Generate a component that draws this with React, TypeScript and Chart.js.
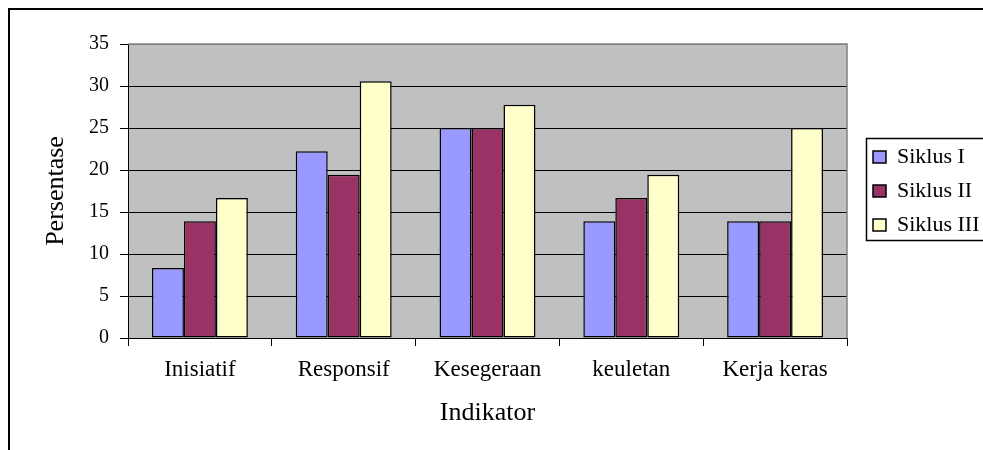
import React, { useEffect, useRef } from "react";
import { Chart, registerables } from "chart.js";

Chart.register(...registerables);

const categories = ["Inisiatif", "Responsif", "Kesegeraan", "keuletan", "Kerja keras"];
const seriesLabels = ["Siklus I", "Siklus II", "Siklus III"];
const siklusI = [8.33, 22.22, 25, 13.89, 13.89];
const siklusII = [13.89, 19.44, 25, 16.67, 13.89];
const siklusIII = [16.67, 30.56, 27.78, 19.44, 25];
const seriesColors = ["#9999FF", "#993366", "#FFFFCC"];
const yTicks = [0, 5, 10, 15, 20, 25, 30, 35];
const xTitle = "Indikator";
const yTitle = "Persentase";

const FONT = "'Liberation Serif', 'Times New Roman', serif";

const framePlugin = {
  id: "frame",
  afterLayout(chart: any) {
    const lg = chart.legend;
    if (lg) {
      lg.left += 14;
      lg.right = lg.left + 220;
      lg.width = 220;
    }
  },
  beforeDraw(chart: any) {
    const { ctx, chartArea: a } = chart;
    ctx.save();
    ctx.fillStyle = "#C0C0C0";
    ctx.fillRect(a.left, a.top, a.right - a.left, a.bottom - a.top);
    ctx.restore();
  },
  afterDraw(chart: any) {
    const { ctx, chartArea: a } = chart;
    ctx.save();
    ctx.strokeStyle = "#808080";
    ctx.lineWidth = 1.5;
    ctx.beginPath();
    ctx.moveTo(a.left, a.top);
    ctx.lineTo(a.right, a.top);
    ctx.lineTo(a.right, a.bottom);
    ctx.stroke();
    const lg = chart.legend;
    if (lg) {
      const cy = lg.top + lg.height / 2;
      ctx.strokeStyle = "#000";
      ctx.lineWidth = 1.5;
      ctx.strokeRect(lg.left + 5.5, Math.round(cy - 53) + 0.5, 300, 102);
    }
    ctx.restore();
  },
};

export default function App() {
  const ref = useRef<HTMLCanvasElement>(null);
  useEffect(() => {
    document.body.style.overflow = "hidden";
    const data = [siklusI, siklusII, siklusIII];
    const chart = new Chart(ref.current as HTMLCanvasElement, {
      type: "bar",
      data: {
        labels: categories,
        datasets: seriesLabels.map((label, i) => ({
          label,
          data: data[i],
          backgroundColor: seriesColors[i],
          borderColor: "#000",
          borderWidth: 1.5,
          borderSkipped: false,
          categoryPercentage: 0.667,
          barPercentage: 1,
        })),
      },
      options: {
        responsive: false,
        animation: false,
        devicePixelRatio: 1,
        layout: { padding: { top: 34, left: 0, right: 63, bottom: 0 } },
        plugins: {
          legend: {
            position: "right",
            fullSize: false,
            maxWidth: 100,
            labels: {
              font: { family: FONT, size: 22 },
              color: "#000",
              boxWidth: 13,
              boxHeight: 12,
              padding: 12,
            },
          },
          tooltip: { enabled: false },
        },
        scales: {
          x: {
            offset: true,
            grid: {
              offset: true,
              drawOnChartArea: false,
              drawTicks: true,
              tickLength: 8,
              color: "#000",
              tickColor: "#000",
              lineWidth: 1,
            },
            border: { display: true, color: "#000", width: 1 },
            ticks: {
              font: { family: FONT, size: 23 },
              color: "#000",
              padding: 10,
              maxRotation: 0,
              autoSkip: false,
            },
            title: {
              display: true,
              text: xTitle,
              font: { family: FONT, size: 26 },
              color: "#000",
              padding: { top: 0, bottom: 21.5 },
            },
            afterFit: (s: any) => {
              s.height = 112;
            },
          },
          y: {
            min: 0,
            max: 35,
            afterBuildTicks: (s: any) => {
              s.ticks = yTicks.map((v) => ({ value: v }));
            },
            ticks: {
              font: { family: FONT, size: 20 },
              color: "#000",
              padding: 11,
            },
            grid: {
              color: (c: any) => (c.tick && c.tick.value === 35 ? "#808080" : "#000"),
              tickColor: "#000",
              tickLength: 8,
              lineWidth: 1,
              drawTicks: true,
            },
            border: { display: true, color: "#000", width: 1 },
            title: {
              display: true,
              text: yTitle,
              font: { family: FONT, size: 26 },
              color: "#000",
              padding: { top: 30.6, bottom: 0 },
            },
            afterFit: (s: any) => {
              s.width = 118;
            },
          },
        },
      } as any,
      plugins: [framePlugin],
    });
    return () => chart.destroy();
  }, []);

  return (
    <div
      style={{
        position: "fixed",
        left: 8,
        top: 8,
        width: 973,
        height: 440,
        borderLeft: "2px solid #000",
        borderTop: "2px solid #000",
        overflow: "hidden",
        background: "#fff",
      }}
    >
      <canvas ref={ref} width={1000} height={440} style={{ display: "block", width: 1000, height: 440 }} />
    </div>
  );
}
